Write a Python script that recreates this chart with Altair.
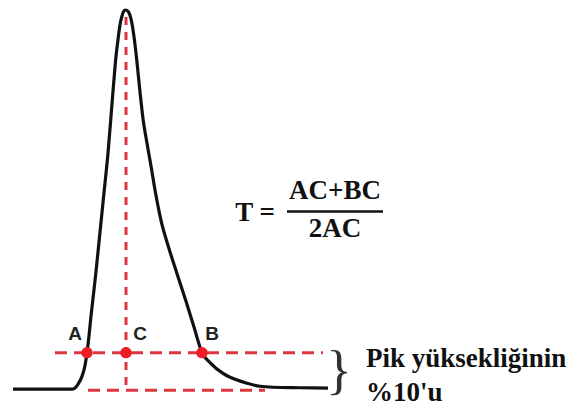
import altair as alt
import pandas as pd

# Peak trace (reference pixel units)
curve_x = [13, 72, 78, 82, 85, 87, 89, 91, 93, 96, 100, 104, 108, 112, 114, 116, 118, 120, 122, 124, 126,
           128.5, 131, 134, 137, 140, 143, 147, 151, 155.5, 161, 168.5, 177, 186, 194, 202, 210, 223, 235,
           247, 260, 273, 300, 328]
curve_y = [389, 389, 384, 376, 365, 352, 335, 315, 297, 270, 230, 190, 150, 100, 75, 52, 35, 20, 11, 6, 5,
           7, 14, 32, 58, 88, 115, 140, 163, 190, 218, 245, 272, 300, 326, 352, 362, 373, 379,
           383, 386, 387, 387.5, 388]

# Dashed guide lines
h_x1 = [55, 88]
h_x2 = [323, 265]
h_y = [352, 390]
v_x = [126]
v_y1 = [12]
v_y2 = [390]

# Points A, C, B
pt_label = ["A", "C", "B"]
pt_x = [87, 126, 202]
pt_y = [352, 352, 352]
lbl_x = [75, 140, 212]
lbl_y = [333, 333, 333]

# Formula
num_text = ["AC+BC"]
den_text = ["2AC"]
lhs_text = ["T ="]

xs = alt.Scale(domain=[8, 570], nice=False, zero=False)
ys = alt.Scale(domain=[3, 406], nice=False, zero=False, reverse=True)

def X(f="x"):
    return alt.X(f"{f}:Q", scale=xs, axis=None)

def Y(f="y"):
    return alt.Y(f"{f}:Q", scale=ys, axis=None)

red = "#dc3540"

curve = alt.Chart(pd.DataFrame({"x": curve_x, "y": curve_y, "o": list(range(len(curve_x)))})).mark_line(
    color="#111111", strokeWidth=3.2, interpolate="monotone"
).encode(x=X(), y=Y(), order="o:Q")

hdash = alt.Chart(pd.DataFrame({"x": h_x1, "x2": h_x2, "y": h_y})).mark_rule(
    color=red, strokeWidth=3, strokeDash=[12, 7]
).encode(x=X(), x2="x2:Q", y=Y())

vdash = alt.Chart(pd.DataFrame({"x": v_x, "y": v_y1, "y2": v_y2})).mark_rule(
    color=red, strokeWidth=3, strokeDash=[8, 7]
).encode(x=X(), y=Y(), y2="y2:Q")

pts = alt.Chart(pd.DataFrame({"x": pt_x, "y": pt_y})).mark_point(
    filled=True, color="#ee1c25", size=130, opacity=1
).encode(x=X(), y=Y())

labels = alt.Chart(pd.DataFrame({"x": lbl_x, "y": lbl_y, "t": pt_label})).mark_text(
    font="Liberation Sans", fontSize=19, fontWeight="bold", color="#222222", align="center", baseline="middle"
).encode(x=X(), y=Y(), text="t:N")

formula_df = pd.DataFrame({
    "x": [255, 335, 335],
    "y": [211, 188, 227],
    "t": lhs_text + num_text + den_text,
})
formula = alt.Chart(formula_df).mark_text(
    font="Liberation Serif", fontSize=27, fontWeight="bold", color="#111111", align="center", baseline="middle"
).encode(x=X(), y=Y(), text="t:N")

frac = alt.Chart(pd.DataFrame({"x": [287], "x2": [383], "y": [209]})).mark_rule(
    color="#111111", strokeWidth=2.5
).encode(x=X(), x2="x2:Q", y=Y())

brace = alt.Chart(pd.DataFrame({"x": [339], "y": [372], "t": ["}"]})).mark_text(
    font="Liberation Serif", fontSize=54, color="#333333", align="center", baseline="middle"
).encode(x=X(), y=Y(), text="t:N")

note = alt.Chart(pd.DataFrame({"x": [366, 366], "y": [358, 393], "t": ["Pik yüksekliğinin", "%10'u"]})).mark_text(
    font="Liberation Serif", fontSize=27, fontWeight="bold", color="#111111", align="left", baseline="middle"
).encode(x=X(), y=Y(), text="t:N")

chart = alt.layer(vdash, hdash, curve, pts, labels, formula, frac, brace, note).properties(
    width=562, height=398, padding=0, autosize="none", background="white"
).configure_view(stroke=None)

chart.save("out.html", embed_options={"renderer": "svg", "actions": False})
